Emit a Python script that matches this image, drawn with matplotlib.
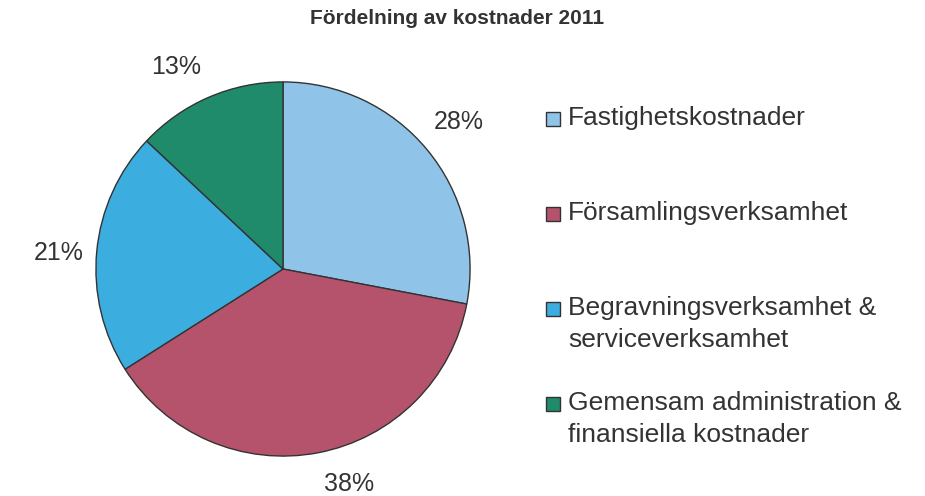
import matplotlib
matplotlib.use("Agg")
import numpy as np
import matplotlib.pyplot as plt
from matplotlib.patches import Rectangle

# data
kategorier = ["Fastighetskostnader", "Församlingsverksamhet",
              "Begravningsverksamhet &\nserviceverksamhet",
              "Gemensam administration &\nfinansiella kostnader"]
andelar = [28, 38, 21, 13]
farger = ["#8fc4e8", "#b5536d", "#3badde", "#1f8b6a"]
titel = "Fördelning av kostnader 2011"

# where the % labels sit (angle in degrees, distance in radii)
etikett_vinkel = [40, -73, 176, 118]
etikett_avst = [1.225, 1.2, 1.20, 1.22]

W, H = 925, 496
plt.rcParams['font.family'] = ['Liberation Sans', 'DejaVu Sans']

fig = plt.figure(figsize=(W / 100, H / 100), dpi=100)

def fx(px):
    return px / W

def fy(py):
    return 1 - py / H

# pie axes: centre (283, 269), radius 188 px
cx, cy, r = 283, 269, 188
ax = fig.add_axes([fx(cx - r), fy(cy + r), 2 * r / W, 2 * r / H])
wedges, texts, autotexts = ax.pie(andelar, colors=farger, startangle=90, counterclock=False,
                                  autopct='%d%%', radius=1,
                                  wedgeprops=dict(edgecolor='#333333', linewidth=1.0),
                                  textprops=dict(fontsize=18, color='#333333'))
for t, v, d in zip(autotexts, etikett_vinkel, etikett_avst):
    t.set_position((d * np.cos(np.radians(v)), d * np.sin(np.radians(v))))
    t.set_ha('center')
    t.set_va('center')
ax.set_xlim(-1.005, 1.005)
ax.set_ylim(-1.005, 1.005)
ax.set_aspect('equal')
ax.axis('off')

# title
fig.text(fx(457), fy(18), titel, ha='center', va='center', fontsize=15,
         fontweight='bold', color='#333333')

# legend, drawn by hand so the box lines up with the first text row
bas = 125
steg = 95
rad = 32
for i, (lab, col) in enumerate(zip(kategorier, farger)):
    y = bas + steg * i
    fig.patches.append(Rectangle((fx(546), fy(y + 1)), 14 / W, 14 / H,
                                 transform=fig.transFigure, facecolor=col,
                                 edgecolor='#333333', linewidth=1.0))
    for k, rad_text in enumerate(lab.split("\n")):
        fig.text(fx(568), fy(y + k * rad), rad_text, ha='left', va='baseline',
                 fontsize=19, color='#333333')

fig.savefig("out.png", dpi=100, facecolor='white')
